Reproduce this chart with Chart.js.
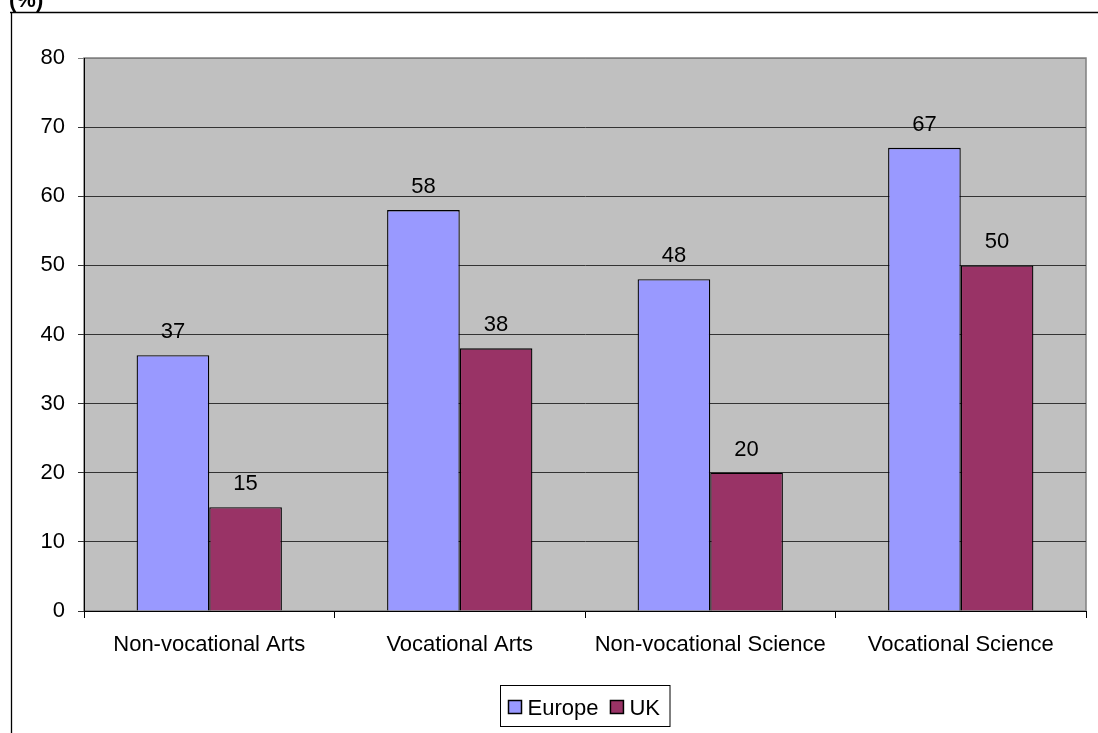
<!DOCTYPE html>
<html>
<head>
<meta charset="utf-8">
<script src="https://cdn.jsdelivr.net/npm/chart.js@4/dist/chart.umd.min.js"></script>
<style>
  html, body { margin: 0; padding: 0; background: #fff; }
  #wrap { width: 1098px; height: 733px; position: relative; }
</style>
</head>
<body>
<div id="wrap"><canvas id="c" width="1098" height="733"></canvas></div>
<script>
// Categories and series (percentages)
const categories = ["Non-vocational Arts", "Vocational Arts", "Non-vocational Science", "Vocational Science"];
const europeValues = [37, 58, 48, 67];
const ukValues = [15, 38, 20, 50];
const seriesNames = ["Europe", "UK"];
const seriesColors = ["#9999FF", "#993366"];
const yTicks = [0, 10, 20, 30, 40, 50, 60, 70, 80];
const unitLabel = "(%)";

const FONT = "Arial, 'Liberation Sans', sans-serif";
const FS = 22;

// Outer frame, unit label and grey plot background
const framePlugin = {
  id: 'frame',
  beforeDraw(chart) {
    const ctx = chart.ctx;
    const a = chart.chartArea;
    ctx.save();
    ctx.fillStyle = '#fff';
    ctx.fillRect(0, 0, chart.width, chart.height);
    ctx.strokeStyle = '#000';
    ctx.lineWidth = 1.3;
    ctx.beginPath();
    ctx.moveTo(10, 12.5);
    ctx.lineTo(chart.width, 12.5);
    ctx.moveTo(11.5, 12.5);
    ctx.lineTo(11.5, chart.height);
    ctx.stroke();
    ctx.fillStyle = '#000';
    ctx.font = 'bold ' + FS + 'px ' + FONT;
    ctx.textAlign = 'left';
    ctx.textBaseline = 'alphabetic';
    ctx.fillText(unitLabel, 9, 7);
    ctx.fillStyle = '#C0C0C0';
    ctx.fillRect(a.left, a.top, a.right - a.left, a.bottom - a.top);
    ctx.strokeStyle = '#808080';
    ctx.lineWidth = 1.5;
    ctx.strokeRect(a.left, a.top, a.right - a.left, a.bottom - a.top);
    ctx.restore();
  }
};

// Value labels above each bar
const valueLabelPlugin = {
  id: 'valueLabels',
  afterDatasetsDraw(chart) {
    const ctx = chart.ctx;
    ctx.save();
    ctx.fillStyle = '#000';
    ctx.font = FS + 'px ' + FONT;
    ctx.textAlign = 'center';
    ctx.textBaseline = 'alphabetic';
    chart.data.datasets.forEach((ds, di) => {
      const meta = chart.getDatasetMeta(di);
      meta.data.forEach((bar, i) => {
        ctx.fillText(String(ds.data[i]), bar.x, bar.y - 17);
      });
    });
    ctx.restore();
  }
};

// Boxed legend centred under the plot
const legendPlugin = {
  id: 'boxLegend',
  afterDraw(chart) {
    const ctx = chart.ctx;
    const a = chart.chartArea;
    ctx.save();
    ctx.font = FS + 'px ' + FONT;
    const sq = 13, gapSq = 6, gapItem = 12, padL = 8, padR = 10;
    const widths = seriesNames.map(n => ctx.measureText(n).width);
    let total = padL + padR;
    widths.forEach((w, i) => { total += sq + gapSq + w + (i < widths.length - 1 ? gapItem : 0); });
    const boxH = 41;
    const cx = (a.left + a.right) / 2;
    const x0 = Math.round(cx - total / 2) + 0.5;
    const y0 = 685.5;
    ctx.fillStyle = '#fff';
    ctx.fillRect(x0, y0, total, boxH);
    ctx.strokeStyle = '#000';
    ctx.lineWidth = 1;
    ctx.strokeRect(x0, y0, total, boxH);
    let x = x0 + padL;
    const cy = y0 + boxH / 2;
    seriesNames.forEach((n, i) => {
      ctx.fillStyle = seriesColors[i];
      ctx.fillRect(x, cy - sq / 2 + 1, sq, sq);
      ctx.strokeStyle = '#000';
      ctx.lineWidth = 1.5;
      ctx.strokeRect(x, cy - sq / 2 + 1, sq, sq);
      x += sq + gapSq;
      ctx.fillStyle = '#000';
      ctx.textAlign = 'left';
      ctx.textBaseline = 'alphabetic';
      ctx.fillText(n, x, cy + 9);
      x += widths[i] + gapItem;
    });
    ctx.restore();
  }
};

new Chart(document.getElementById('c'), {
  type: 'bar',
  data: {
    labels: categories,
    datasets: [
      { label: seriesNames[0], data: europeValues, backgroundColor: seriesColors[0], borderColor: '#000', borderWidth: 1.3 },
      { label: seriesNames[1], data: ukValues, backgroundColor: seriesColors[1], borderColor: '#000', borderWidth: 1.3 }
    ]
  },
  options: {
    responsive: false,
    animation: false,
    devicePixelRatio: 1,
    layout: { padding: { left: 12, right: 12, top: 58, bottom: 0 } },
    datasets: { bar: { categoryPercentage: 0.58, barPercentage: 1.0 } },
    plugins: { legend: { display: false }, tooltip: { enabled: false } },
    scales: {
      x: {
        offset: true,
        grid: { offset: true, drawOnChartArea: false, drawTicks: true, tickLength: 7, color: '#000' },
        border: { display: true, color: '#000', width: 1 },
        ticks: { color: '#000', font: { family: FONT, size: FS }, padding: 14, maxRotation: 0 },
        afterFit(scale) { scale.height = 122; }
      },
      y: {
        min: 0,
        max: 80,
        afterBuildTicks(scale) { scale.ticks = yTicks.map(v => ({ value: v })); },
        grid: {
          drawOnChartArea: true, drawTicks: true, tickLength: 6,
          color: ctx => (ctx.tick && ctx.tick.value === 80 ? '#808080' : '#333'),
          lineWidth: 1
        },
        border: { display: true, color: '#000', width: 1 },
        ticks: { color: '#000', font: { family: FONT, size: FS }, padding: 13 },
        afterFit(scale) { scale.width = 72; }
      }
    }
  },
  plugins: [framePlugin, valueLabelPlugin, legendPlugin]
});
</script>
</body>
</html>
